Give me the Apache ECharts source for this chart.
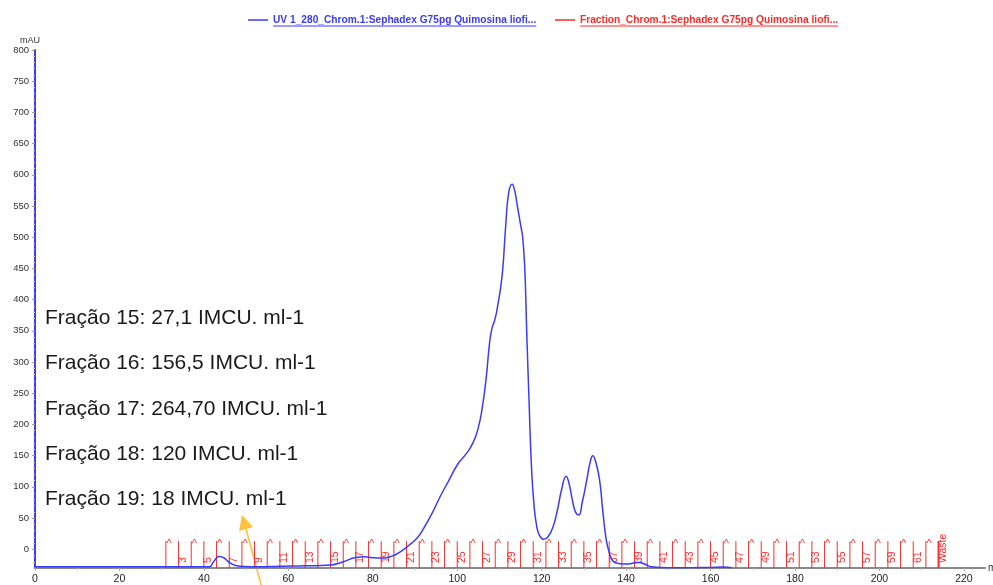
<!DOCTYPE html>
<html><head><meta charset="utf-8">
<script src="https://cdn.jsdelivr.net/npm/echarts@6/dist/echarts.min.js"></script>
<style>html,body{margin:0;padding:0;background:#fff}#c{width:993px;height:585px}</style>
</head><body><div id="c"></div>
<script>
// ---- data ----
const uvName = 'UV 1_280_Chrom.1:Sephadex G75pg Quimosina liofi...';
const fracName = 'Fraction_Chrom.1:Sephadex G75pg Quimosina liofi...';
const uvVolume = [0,10,20,30,38,41.3,42.3,43.6,44.8,46.2,48.5,53,58,64,70,73,76,78,80,82.5,84.5,86.5,88.5,90.5,92,94,96,98,100,102,103.7,105,106,106.9,107.5,108.1,109,109.7,110.3,110.8,111.5,112.2,113,113.6,114.2,115,115.5,116,116.5,117,117.6,118.2,118.8,119.5,120.5,121.5,122.7,123.8,124.7,125.8,126.5,127.3,128,128.8,129.6,130.6,131.5,132.1,132.8,133.7,134.5,135.3,136,136.9,138.5,140,141.5,143,144.5,146,150,155,160,163,165];
const uvAbsorbance = [-28,-28,-28,-28,-28,-28,-20,-11.5,-14,-22,-27,-28,-27,-26.5,-25,-20,-13,-12,-13.5,-14,-11,-4,6,18,33,57,85,110,135,152,170,195,230,277,320,350,370,395,420,450,520,572,585,575,552,520,500,450,340,240,130,70,38,22,16,20,36,65,95,117,105,78,60,55,75,108,140,150,140,112,60,15,-5,-19,-23,-23.5,-22.5,-21,-24,-28,-29.5,-29.5,-29,-28.5,-29.5];
const fractionStarts = [31,34,37,40,43,46,49,52,55,58,61,64,67,70,73,76,79,82,85,88,91,94,97,100,103,106,109,112,115,118,121,124,127,130,133,136,139,142,145,148,151,154,157,160,163,166,169,172,175,178,181,184,187,190,193,196,199,202,205,208,211,214];
const fractionLabels = ['^','3','^','5','^','7','^','9','^','11','^','13','^','15','^','17','^','19','^','21','^','23','^','25','^','27','^','29','^','31','^','33','^','35','^','37','^','39','^','41','^','43','^','45','^','47','^','49','^','51','^','53','^','55','^','57','^','59','^','61','^','Waste'];
const xTickLabels = [0,20,40,60,80,100,120,140,160,180,200,220];
const yTickLabels = [0,50,100,150,200,250,300,350,400,450,500,550,600,650,700,750,800];
const yMinorTicks = [-20,-10,10,20,30,40,60,70,80,90,110,120,130,140,160,170,180,190,210,220,230,240,260,270,280,290,310,320,330,340,360,370,380,390,410,420,430,440,460,470,480,490,510,520,530,540,560,570,580,590,610,620,630,640,660,670,680,690,710,720,730,740,760,770,780,790];
const notes = ['Fração 15: 27,1 IMCU. ml-1','Fração 16: 156,5 IMCU. ml-1','Fração 17: 264,70 IMCU. ml-1','Fração 18: 120 IMCU. ml-1','Fração 19: 18 IMCU. ml-1'];

const FF = '"Liberation Sans", Arial, sans-serif';
const BLUE = '#3a3aff', RED = '#ff2a2a';
const chart = echarts.init(document.getElementById('c'), null, {renderer:'canvas'});

function textW(t, font){const c=document.createElement('canvas').getContext('2d');c.font=font;return c.measureText(t).width;}
const LFS = 10.2;
const legFont = 'bold ' + LFS + 'px ' + FF;
const uvW = textW(uvName, legFont), frW = textW(fracName, legFont);

const graphics = [];
notes.forEach((t,i)=>{
  graphics.push({type:'text', left:45, top:308 + i*45.2, style:{text:t, font:'21px ' + FF, fill:'#1a1a1a'}});
});
graphics.push({type:'line', shape:{x1:262,y1:588,x2:246,y2:529}, style:{stroke:'#ffc13b', lineWidth:1.6}, silent:true});
graphics.push({type:'polygon', shape:{points:[[242,515],[253,527],[239,531]]}, style:{fill:'#ffc13b'}, silent:true});
graphics.push({type:'line', shape:{x1:273,y1:26,x2:273+uvW,y2:26}, style:{stroke:BLUE, lineWidth:1}});
graphics.push({type:'line', shape:{x1:580,y1:26,x2:580+frW,y2:26}, style:{stroke:RED, lineWidth:1}});

const option = {
  animation:false,
  textStyle:{fontFamily:FF},
  grid:{left:35, right:8, top:50, bottom:17, containLabel:false, outerBoundsMode:'none'},
  legend:[
    {data:[{name:uvName, icon:'rect'}], left:248, top:15, padding:0, itemWidth:20, itemHeight:1.5, textStyle:{color:BLUE, fontWeight:'bold', fontSize:LFS, fontFamily:FF}},
    {data:[{name:fracName, icon:'rect'}], left:555, top:15, padding:0, itemWidth:20, itemHeight:1.5, textStyle:{color:RED, fontWeight:'bold', fontSize:LFS, fontFamily:FF}}
  ],
  xAxis:{type:'value', min:0, max:225, interval:20,
    name:'ml', nameLocation:'end', nameGap:3, nameTextStyle:{fontSize:10, color:'#333', align:'left', verticalAlign:'middle'},
    axisLine:{onZero:false, lineStyle:{color:'#8a8a8a', width:2}},
    axisTick:{show:true, customValues:xTickLabels, length:3, lineStyle:{color:'#aaa'}},
    minorTick:{show:true, splitNumber:2, length:2, lineStyle:{color:'#bbb'}},
    axisLabel:{customValues:xTickLabels, fontSize:10.5, color:'#222', margin:6, fontFamily:FF},
    splitLine:{show:false}},
  yAxis:[
    {type:'value', min:-30, max:800,
     name:'mAU', nameLocation:'end', nameGap:1, nameTextStyle:{fontSize:9, color:'#333', align:'center', padding:[0,10,0,0]},
     axisLine:{show:true, lineStyle:{color:BLUE, width:2}},
     axisTick:{show:true, customValues:yTickLabels, length:3, lineStyle:{color:'#999'}},
     axisLabel:{customValues:yTickLabels, fontSize:9.5, color:'#333', margin:6, fontFamily:FF},
     splitLine:{show:false}},
    {type:'value', min:-30, max:800, position:'left', offset:0,
     axisLine:{show:false}, axisLabel:{show:false}, splitLine:{show:false},
     axisTick:{show:true, customValues:yMinorTicks, length:2, lineStyle:{color:'#c8c8c8'}}}
  ],
  series:[
    {name:fracName, type:'custom', z:1, itemStyle:{color:RED},
     data: fractionStarts.map(v=>[v,0]),
     encode:{x:0, y:1},
     renderItem:function(params, api){
       const x = api.value(0);
       const lab = fractionLabels[params.dataIndex];
       const b = api.coord([x,-30]);
       const t = api.coord([x,13]);
       const ch = [{type:'line', shape:{x1:b[0],y1:b[1],x2:t[0],y2:t[1]}, style:{stroke:RED, lineWidth: lab==='Waste'?2:1}}];
       if(lab==='^'){
         ch.push({type:'text', x:t[0]+0.5, y:t[1]-3, style:{text:'^', fill:RED, font:'11px '+FF, align:'left', verticalAlign:'top'}});
       } else {
         ch.push({type:'text', x:b[0]+4.5, y:b[1]-5, rotation:Math.PI/2, style:{text:lab, fill:RED, font:'10.5px '+FF, align:'left', verticalAlign:'middle'}});
       }
       return {type:'group', children:ch};
     }},
    {name:uvName, type:'line', z:3, showSymbol:false, symbol:'none', smooth:0.5,
     lineStyle:{color:BLUE, width:1.5}, itemStyle:{color:BLUE},
     data: uvVolume.map((v,i)=>[v, uvAbsorbance[i]])}
  ],
  graphic: graphics
};
chart.setOption(option);
</script></body></html>
